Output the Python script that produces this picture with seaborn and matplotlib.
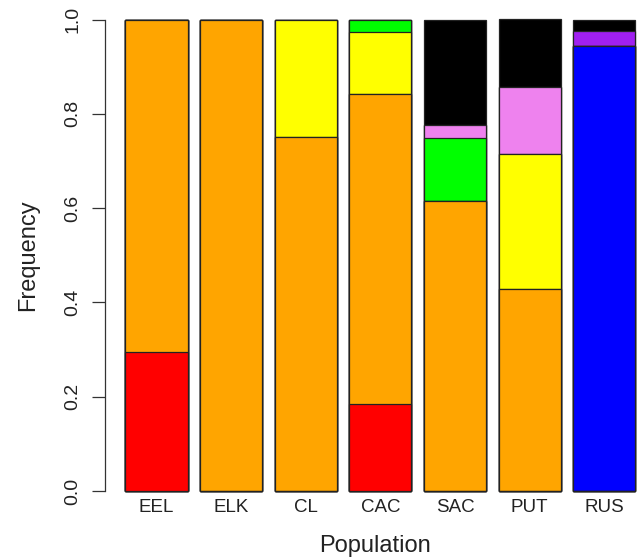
import matplotlib
matplotlib.use("Agg")
import matplotlib.pyplot as plt
import seaborn as sns
import numpy as np
import pandas as pd

populations = ["EEL", "ELK", "CL", "CAC", "SAC", "PUT", "RUS"]
red    = [0.294, 0.0, 0.0,  0.184, 0.0,   0.0,    0.0]
orange = [0.706, 1.0, 0.75, 0.658, 0.615, 0.4286, 0.0]
blue   = [0.0,   0.0, 0.0,  0.0,   0.0,   0.0,    0.944]
yellow = [0.0,   0.0, 0.25, 0.132, 0.0,   0.2857, 0.0]
green  = [0.0,   0.0, 0.0,  0.026, 0.133, 0.0,    0.0]
violet = [0.0,   0.0, 0.0,  0.0,   0.028, 0.1429, 0.0]
purple = [0.0,   0.0, 0.0,  0.0,   0.0,   0.0,    0.032]
black  = [0.0,   0.0, 0.0,  0.0,   0.224, 0.1429, 0.024]
yticks = [0.0, 0.2, 0.4, 0.6, 0.8, 1.0]
ytick_labels = ["0.0", "0.2", "0.4", "0.6", "0.8", "1.0"]

layers = [("red", red, "#FF0000"), ("orange", orange, "#FFA500"),
          ("blue", blue, "#0000FF"), ("yellow", yellow, "#FFFF00"),
          ("green", green, "#00FF00"), ("violet", violet, "#EE82EE"),
          ("purple", purple, "#A020F0"), ("black", black, "#000000")]

sns.set_style("white")
plt.rcParams["font.family"] = ["Liberation Sans", "DejaVu Sans"]

fig = plt.figure(figsize=(6.4, 5.6), dpi=100)
ax = fig.add_axes([0.1641, 0.0895, 0.8606, 0.9093])

cum = np.cumsum(np.array([l[1] for l in layers]), axis=0)
for i in range(len(layers) - 1, -1, -1):
    name, vals, col = layers[i]
    df = pd.DataFrame({"Population": populations, "cum": cum[i]})
    sns.barplot(data=df, x="Population", y="cum", order=populations,
                color=col, saturation=1, width=0.834, ax=ax,
                edgecolor="#222222", linewidth=0.9, errorbar=None)

ax.set_xlim(-0.688, 6.69)
ax.set_ylim(-0.04, 1.04)
for s in ["top", "right", "bottom"]:
    ax.spines[s].set_visible(False)
ax.spines["left"].set_bounds(0, 1)
ax.spines["left"].set_color("#333333")
ax.spines["left"].set_linewidth(0.9)

ax.set_yticks(yticks)
ax.set_yticklabels(ytick_labels, rotation=90, va="center", fontsize=14, color="#222222")
ax.tick_params(axis="y", left=True, length=9.4, width=0.9, color="#333333", pad=7.5)
ax.tick_params(axis="x", bottom=False, length=0, pad=-7.5, labelsize=13.5, labelcolor="#222222")

ax.set_xlabel("Population", fontsize=17, color="#222222")
ax.xaxis.set_label_coords(0.49, -0.05, transform=ax.transAxes)
ax.xaxis.label.set_va("top")
ax.set_ylabel("Frequency", fontsize=17, color="#222222")
ax.yaxis.set_label_coords(-0.139, 0.5, transform=ax.transAxes)
ax.yaxis.label.set_va("center")

fig.savefig("out.png", dpi=100)
